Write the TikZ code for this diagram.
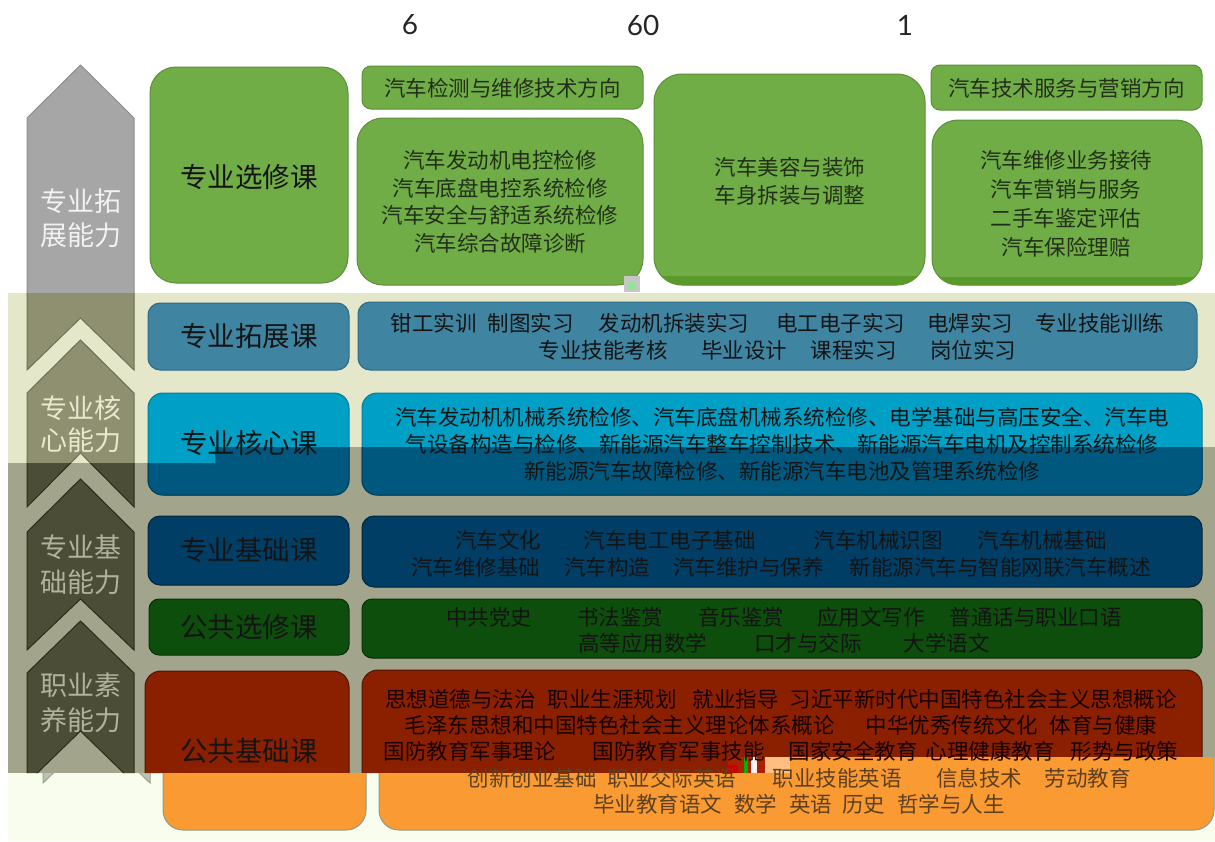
\documentclass[tikz,border=0pt]{standalone}
\usepackage{fontspec}
\newfontfamily\cjk{Noto Sans CJK SC}
\newfontfamily\numfont{Lato}
\definecolor{bandB}{HTML}{E5E7CA}
\definecolor{bandD}{HTML}{A2A48C}
\definecolor{bandP}{HTML}{F9FDED}
\definecolor{arrW}{HTML}{A6A6A6}
\definecolor{arrWb}{HTML}{8E8E8E}
\definecolor{arrB}{HTML}{8E9070}
\definecolor{arrBb}{HTML}{6E7054}
\definecolor{arrD}{HTML}{4B4D37}
\definecolor{arrDb}{HTML}{2A2C1C}
\definecolor{arrP}{HTML}{BCC3B3}
\definecolor{arrPb}{HTML}{98A090}
\definecolor{grn}{HTML}{70AD47}
\definecolor{grnb}{HTML}{5B8F38}
\definecolor{grnd}{HTML}{5A9A2A}
\definecolor{ext}{HTML}{3F84A1}
\definecolor{extb}{HTML}{2D6A86}
\definecolor{coreB}{HTML}{00A0C6}
\definecolor{coreBb}{HTML}{007C9C}
\definecolor{coreD}{HTML}{00587E}
\definecolor{coreDb}{HTML}{003A56}
\definecolor{basec}{HTML}{003E66}
\definecolor{baseb}{HTML}{00243E}
\definecolor{elec}{HTML}{0E4E0C}
\definecolor{elecb}{HTML}{062E05}
\definecolor{pub}{HTML}{8A2000}
\definecolor{pubb}{HTML}{4E1400}
\definecolor{org}{HTML}{FA9A32}
\definecolor{orgb}{HTML}{8C9A88}
\definecolor{txtdark}{HTML}{141414}
\definecolor{txtgrn}{HTML}{22301A}
\definecolor{txtorg}{HTML}{5E4020}
\newcommand\gp[1]{\hspace{#1pt}}
\newcommand\chev[4]{(27,#2) -- (80.5,#1) -- (134,#2) -- (134,#3) -- (80.5,#4) -- (27,#3) -- cycle}
\newcommand\rbox[7]{\filldraw[fill=#6, draw=#7, line width=1pt, rounded corners=#5pt] (#1,#2) rectangle (#3,#4);}
\def\regW{(0,0) rectangle (1215,293)}
\def\regB{(8,293) -- (1215,293) -- (1215,447) -- (215,447) -- (215,463) -- (8,463) -- cycle}
\def\regD{(8,463) -- (215,463) -- (215,447) -- (1215,447) -- (1215,757) -- (760,757) -- (760,773) -- (8,773) -- cycle}
\def\regP{(8,773) -- (760,773) -- (760,757) -- (1215,757) -- (1215,841) -- (8,841) -- cycle}
\tikzset{
  lbl/.style={font=\cjk\fontsize{27.5}{33}\selectfont, text=txtdark, inner sep=0pt},
  armtext/.style={font=\cjk\fontsize{27}{34}\selectfont, align=center, inner sep=0pt},
  txt/.style={font=\cjk\fontsize{21.5}{27}\selectfont, align=center, inner sep=0pt, text=txtdark},
  numtxt/.style={font=\numfont\fontsize{28}{30}\selectfont, text=black!85, inner sep=0pt},
}
\begin{document}
\begin{tikzpicture}[x=1pt,y=-1pt]
\useasboundingbox (0,0) rectangle (1215,841);
\fill[white] (0,0) rectangle (1215,841);
% bands
\fill[bandB] \regB;
\fill[bandD] \regD;
\fill[bandP] \regP;
% arrows
\begin{scope}
  \clip \regW;
  \filldraw[fill=arrW, draw=arrWb, line width=1pt] \chev{65}{118}{370}{318};
\end{scope}
\begin{scope}
  \clip \regB;
  \filldraw[fill=arrB, draw=arrBb, line width=1pt] \chev{65}{118}{370}{318};
  \filldraw[fill=arrB, draw=arrBb, line width=1pt] \chev{340}{393}{507}{453};
\end{scope}
\begin{scope}
  \clip \regD;
  \filldraw[fill=arrD, draw=arrDb, line width=1pt] \chev{340}{393}{507}{453};
  \filldraw[fill=arrD, draw=arrDb, line width=1pt] \chev{479}{532}{650}{599};
  \filldraw[fill=arrD, draw=arrDb, line width=1pt] \chev{621}{673}{783}{731};
\end{scope}
\begin{scope}
  \clip \regP;
  \filldraw[xshift=16pt, fill=arrP, draw=arrPb, line width=1pt] \chev{621}{673}{783}{731};
\end{scope}
% top green boxes
\rbox{150}{67}{348}{283}{26}{grn}{grnb}
\rbox{362}{66}{643}{109}{9}{grn}{grnb}
\rbox{357}{118}{643}{285}{26}{grn}{grnb}
\rbox{654}{74}{925}{285}{28}{grn}{grnb}
\rbox{931}{65}{1202}{110}{9}{grn}{grnb}
\rbox{932}{120}{1202}{285}{26}{grn}{grnb}
\begin{scope}
  \clip[rounded corners=28pt] (654,74) rectangle (925,285);
  \fill[grnd] (654,276) rectangle (925,286);
\end{scope}
\begin{scope}
  \clip[rounded corners=26pt] (932,120) rectangle (1202,285);
  \fill[grnd] (932,277) rectangle (1202,286);
\end{scope}
\fill[gray!45] (624,276) rectangle (640,292);
\fill[black!30!green!40] (628,282) rectangle (636,290);
% extension row
\rbox{148}{303}{349}{370}{12}{ext}{extb}
\rbox{358}{302}{1197}{370}{12}{ext}{extb}
% core row
\rbox{148}{393}{349}{495}{15}{coreB}{coreBb}
\rbox{362}{393}{1202}{495}{15}{coreB}{coreBb}
\begin{scope}
  \clip \regD;
  \rbox{148}{393}{349}{495}{15}{coreD}{coreDb}
  \rbox{362}{393}{1202}{495}{15}{coreD}{coreDb}
\end{scope}
% base row
\rbox{148}{516}{349}{585}{12}{basec}{baseb}
\rbox{362}{516}{1202}{587}{12}{basec}{baseb}
% public elective row
\rbox{149}{599}{349}{655}{10}{elec}{elecb}
\rbox{362}{599}{1202}{658}{10}{elec}{elecb}
% public base row (dark part)
\begin{scope}
  \clip \regD;
  \rbox{145}{671}{349}{860}{16}{pub}{pubb}
  \rbox{362}{670}{1202}{860}{16}{pub}{pubb}
\end{scope}
% public base row (shifted orange part)
\begin{scope}
  \clip \regP;
  \rbox{163}{650}{366}{830}{20}{org}{orgb}
  \rbox{379}{650}{1214}{830}{20}{org}{orgb}
\end{scope}
% glitch block
\fill[black!55!orange!60!red] (728,757) rectangle (790,773);
\fill[red!80!black] (728,765) rectangle (738,773);
\fill[green!70!black] (744,757) rectangle (748,773);
\fill[white!80!pink] (751,757) rectangle (757,773);
\fill[orange!50!white] (765,757) rectangle (790,773);
% numbers
\node[numtxt] (n6) at (410,25) {6};
\node[numtxt] (n60) at (643,25) {60};
\node[numtxt] (n1) at (905,25) {1};
% arrow captions
\node[armtext, text=white!95!black] (c1) at (80.5,218) {专业拓\\展能力};
\node[armtext, text=bandB!90!white, font=\cjk\fontsize{27}{32}\selectfont] (c2) at (80.5,424) {专业核\\心能力};
\node[armtext, text=bandD!85!white, font=\cjk\fontsize{27}{35}\selectfont] (c3) at (80.5,564.5) {专业基\\础能力};
\node[armtext, text=bandD!85!white, font=\cjk\fontsize{27}{35}\selectfont] (c4) at (80.5,702.5) {职业素\\养能力};
% left labels
\node[lbl] (l1) at (249,177) {专业选修课};
\node[lbl] (l2) at (249,336) {专业拓展课};
\node[lbl] (l3) at (249,443) {专业核心课};
\node[lbl] (l4) at (249,550) {专业基础课};
\node[lbl] (l5) at (249,627) {公共选修课};
\node[lbl] (l6) at (249,751) {公共基础课};
% top texts
\node[txt, text=txtgrn] (t1) at (502.5,88) {汽车检测与维修技术方向};
\node[txt, text=txtgrn] (t2) at (1066.5,88.5) {汽车技术服务与营销方向};
\node[txt, text=txtgrn, font=\cjk\fontsize{21.5}{27.7}\selectfont] (t3) at (500,201.7)
  {汽车发动机电控检修\\汽车底盘电控系统检修\\汽车安全与舒适系统检修\\汽车综合故障诊断};
\node[txt, text=txtgrn, font=\cjk\fontsize{21.5}{28}\selectfont] (t4) at (790,181)
  {汽车美容与装饰\\车身拆装与调整};
\node[txt, text=txtgrn, font=\cjk\fontsize{21.5}{29}\selectfont] (t5) at (1066,203.7)
  {汽车维修业务接待\\汽车营销与服务\\二手车鉴定评估\\汽车保险理赔};
% extension text
\node[txt] (t6) at (777.5,336.5)
  {钳工实训\gp{11}制图实习\gp{25}发动机拆装实习\gp{27}电工电子实习\gp{22}电焊实习\gp{22}专业技能训练\\
   专业技能考核\gp{34}毕业设计\gp{23}课程实习\gp{34}岗位实习};
% core text
\node[txt] (t7) at (782,444.5)
  {汽车发动机机械系统检修、汽车底盘机械系统检修、电学基础与高压安全、汽车电\\
   气设备构造与检修、新能源汽车整车控制技术、新能源汽车电机及控制系统检修\\
   新能源汽车故障检修、新能源汽车电池及管理系统检修};
% base text
\node[txt] (t8) at (781,553.5)
  {汽车文化\gp{43}汽车电工电子基础\gp{58}汽车机械识图\gp{35}汽车机械基础\\
   汽车维修基础\gp{24}汽车构造\gp{23}汽车维护与保养\gp{26}新能源汽车与智能网联汽车概述};
% public elective text
\node[txt, font=\cjk\fontsize{21.5}{26}\selectfont] (t9) at (784,630)
  {中共党史\gp{45}书法鉴赏\gp{35}音乐鉴赏\gp{33}应用文写作\gp{25}普通话与职业口语\\
   高等应用数学\gp{47}口才与交际\gp{42}大学语文};
% public base text
\node[txt, font=\cjk\fontsize{21.5}{26}\selectfont, text=black!90!red] (t10) at (781,725)
  {思想道德与法治\gp{12}职业生涯规划\gp{16}就业指导\gp{11}习近平新时代中国特色社会主义思想概论\\
   毛泽东思想和中国特色社会主义理论体系概论\gp{31}中华优秀传统文化\gp{12}体育与健康\\
   国防教育军事理论\gp{37}国防教育军事技能\gp{24}国家安全教育\gp{8}心理健康教育\gp{16}形势与政策};
\node[txt, font=\cjk\fontsize{21.5}{26}\selectfont, text=txtorg] (t11) at (799,791)
  {创新创业基础\gp{11}职业交际英语\gp{36}职业技能英语\gp{35}信息技术\gp{22}劳动教育\\
   毕业教育语文\gp{12}数学\gp{12}英语\gp{10}历史\gp{12}哲学与人生};
\end{tikzpicture}
\end{document}
